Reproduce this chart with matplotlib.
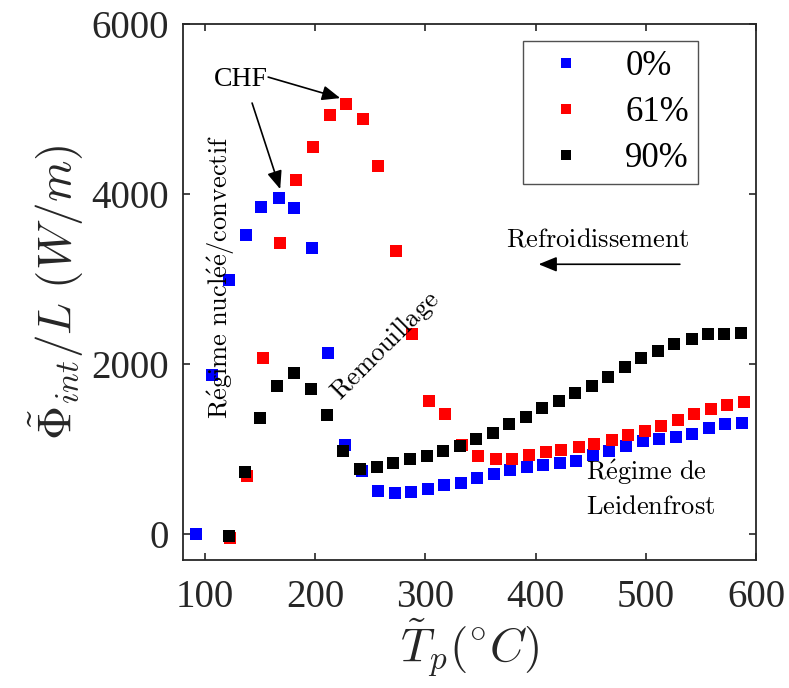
import numpy as np
import matplotlib
matplotlib.use('Agg')
import matplotlib.pyplot as plt

plt.rcParams['font.family'] = ['Liberation Serif', 'DejaVu Serif']
plt.rcParams['mathtext.fontset'] = 'cm'

# données
t_0 = [92, 106, 122, 137, 151, 167, 181, 197, 212, 227, 242, 257, 272, 287, 302, 317, 332,
       347, 362, 377, 392, 407, 422, 437, 452, 467, 482, 497, 512, 527, 542, 557, 572, 587]
phi_0 = [0, 1874, 2996, 3525, 3851, 3953, 3843, 3369, 2129, 1051, 749, 506, 486, 498, 533, 578, 610,
         658, 706, 753, 792, 816, 835, 867, 933, 980, 1039, 1098, 1118, 1141, 1176, 1251, 1302, 1314]

t_61 = [123, 138, 153, 168, 183, 198, 213, 228, 243, 257, 273, 288, 303, 318, 333, 348,
        364, 379, 394, 409, 423, 439, 453, 469, 484, 499, 514, 529, 544, 559, 574, 589]
phi_61 = [-40, 682, 2074, 3431, 4161, 4557, 4929, 5059, 4882, 4333, 3333, 2357, 1573, 1420, 1051, 918,
          886, 886, 933, 973, 988, 1024, 1059, 1110, 1165, 1216, 1278, 1345, 1416, 1475, 1525, 1561]

t_90 = [122, 136, 150, 165, 181, 196, 211, 225, 241, 256, 271, 286, 301, 316, 331, 346,
        361, 376, 391, 406, 421, 436, 451, 466, 481, 496, 511, 526, 542, 556, 571, 586]
phi_90 = [-20, 737, 1373, 1749, 1894, 1714, 1408, 980, 765, 792, 843, 882, 918, 976, 1043, 1118,
          1196, 1294, 1385, 1482, 1573, 1667, 1749, 1851, 1965, 2075, 2157, 2243, 2294, 2353, 2361, 2373]

labels = ['0%', '61%', '90%']
couleurs = ['#0000ff', '#ff0000', '#000000']

fig = plt.figure(figsize=(7.89, 6.88), dpi=100)
ax = fig.add_axes([183/789, 1-560/688, (756-183)/789, (560-24)/688])

for t, phi, lab, c in zip([t_0, t_61, t_90], [phi_0, phi_61, phi_90], labels, couleurs):
    ax.plot(t, phi, 's', color=c, ms=8, mew=0, label=lab)

ax.set_xlim(80, 600)
ax.set_ylim(-300, 6000)
ax.set_xticks([100, 200, 300, 400, 500, 600])
ax.set_yticks([0, 2000, 4000, 6000])
ax.tick_params(direction='in', top=True, right=True, length=5, width=1.2,
               labelsize=28, colors='#262626')
ax.tick_params(axis='x', pad=14)
ax.tick_params(axis='y', pad=10)
for s in ax.spines.values():
    s.set_linewidth(1.3)
    s.set_color('#262626')

ax.set_xlabel(r'$\tilde{T}_p(^{\circ}C)$', fontsize=34, color='#262626', labelpad=0)
ax.set_ylabel(r'$\tilde{\Phi}_{int}/L\ (W/m)$', fontsize=34, color='#262626', labelpad=4)

leg = ax.legend(loc='upper left', bbox_to_anchor=(0.593, 0.968), fontsize=25,
                frameon=True, fancybox=False, edgecolor='#262626', numpoints=1,
                handletextpad=0.7, labelspacing=0.38, borderpad=0.25, borderaxespad=0)
leg.get_frame().set_linewidth(1.0)
for h in leg.legend_handles:
    h.set_markersize(7)

# annotations
fl = dict(arrowstyle='-|>,head_length=1.1,head_width=0.45', color='k', lw=1.2,
          shrinkA=0, shrinkB=0, mutation_scale=10)
ax.text(132.7, 5353, 'CHF', fontsize=20, ha='center', va='center')
ax.annotate('', xy=(222.7, 5129), xytext=(157.3, 5376), arrowprops=fl)
ax.annotate('', xy=(168.2, 4059), xytext=(142.7, 5071), arrowprops=fl)

ax.text(114.5, 3024, r'$\mathrm{R\acute{e}gime\ nucl\acute{e}\acute{e}/convectif}$',
        fontsize=19, rotation=90, ha='center', va='center')
ax.text(263.6, 2212, r'$\mathrm{Remouillage}$', fontsize=19, rotation=45,
        ha='center', va='center')
ax.text(456.4, 3459, r'$\mathrm{Refroidissement}$', fontsize=19, ha='center', va='center')
ax.annotate('', xy=(402.7, 3176), xytext=(530.9, 3176), arrowprops=fl)
ax.text(445.5, 541, r'$\mathrm{R\acute{e}gime\ de}$' + '\n' + r'$\mathrm{Leidenfrost}$',
        fontsize=19, ha='left', va='center', linespacing=1.5)

fig.savefig('out.png', dpi=100)
